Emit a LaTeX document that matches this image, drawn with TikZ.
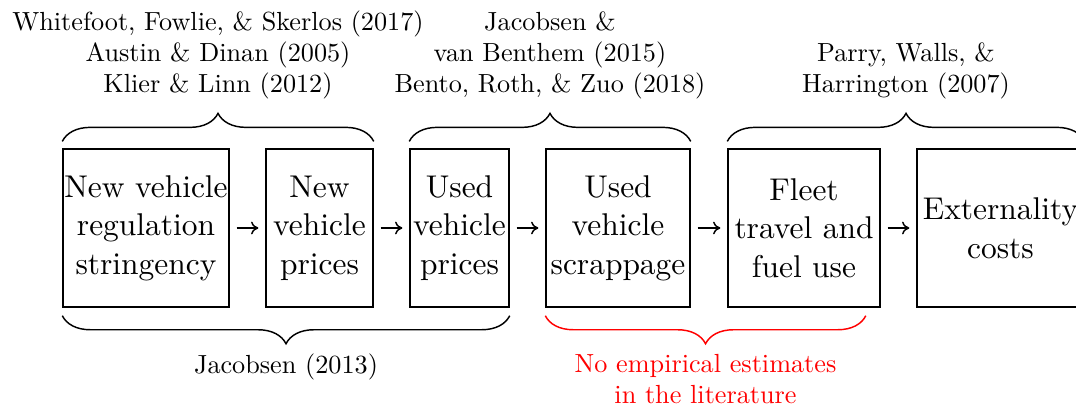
\documentclass[tikz,border=0pt]{standalone}
\usetikzlibrary{decorations.pathreplacing, arrows.meta, calc}
\font\stagefont="[lmroman10-regular]:mapping=tex-text" at 17.28pt
\font\citefont="[lmroman10-regular]:mapping=tex-text" at 14.4pt

\begin{document}
\begin{tikzpicture}[x=0.5495pt, y=0.5495pt, >={To[length=4pt, width=7pt]}, stage/.style={draw, thick, align=center, inner sep=0.5pt, minimum height=86.8pt, font=\fontsize{17.28}{21.2}\selectfont\stagefont}, cite/.style={align=center, inner sep=0pt, font=\fontsize{14.4}{17}\selectfont\citefont}, flow/.style={->, line width=0.8pt, shorten <=3.8pt, shorten >=3.8pt}, topbrace/.style={decorate, thick, decoration={brace, amplitude=15.4pt, raise=3.8pt}}, botbrace/.style={decorate, thick, decoration={brace, mirror, amplitude=15.4pt, raise=4.4pt}}]
\useasboundingbox (0,0) rectangle (1076,405);
\node[stage, minimum width=91.2pt] (B1) at (146, 177) {New vehicle\\regulation\\stringency};
\node[stage, minimum width=58.8pt] (B2) at (319.5, 177) {New\\vehicle\\prices};
\node[stage, minimum width=54.4pt] (B3) at (459.5, 177) {Used\\vehicle\\prices};
\node[stage, minimum width=79.1pt] (B4) at (618, 177) {Used\\vehicle\\scrappage};
\node[stage, minimum width=83.5pt] (B5) at (804, 177) {Fleet\\travel and\\fuel use};
\node[stage, minimum width=91.8pt] (B6) at (1000.5, 177) {Externality\\costs};
\draw[flow] (B1) -- (B2); \draw[flow] (B2) -- (B3); \draw[flow] (B3) -- (B4);
\draw[flow] (B4) -- (B5); \draw[flow] (B5) -- (B6);
% literature above the chain
\draw[topbrace] (B1.north west) -- (B2.north east) node[cite, midway, above=26.6pt] (RA) {Whitefoot, Fowlie, \& Skerlos (2017)\\Austin \& Dinan (2005)\\Klier \& Linn (2012)};
\draw[topbrace] (B3.north west) -- (B4.north east) node[cite, midway, above=26.6pt] (RB) {Jacobsen \&\\van Benthem (2015)\\Bento, Roth, \& Zuo (2018)};
\draw[topbrace] (B5.north west) -- (B6.north east) node[cite, midway, above=26.6pt] (RC) {Parry, Walls, \&\\Harrington (2007)};
% below the chain
\coordinate (E5) at ([xshift=-8.2pt]B5.south east);
\draw[botbrace] (B1.south west) -- (B3.south east) node[cite, midway, below=24.8pt] (RD) {Jacobsen (2013)};
\draw[botbrace, red] (B4.south west) -- (E5) node[cite, midway, below=25pt, text=red] (RE) {No empirical estimates\\in the literature};
\end{tikzpicture}
\end{document}
